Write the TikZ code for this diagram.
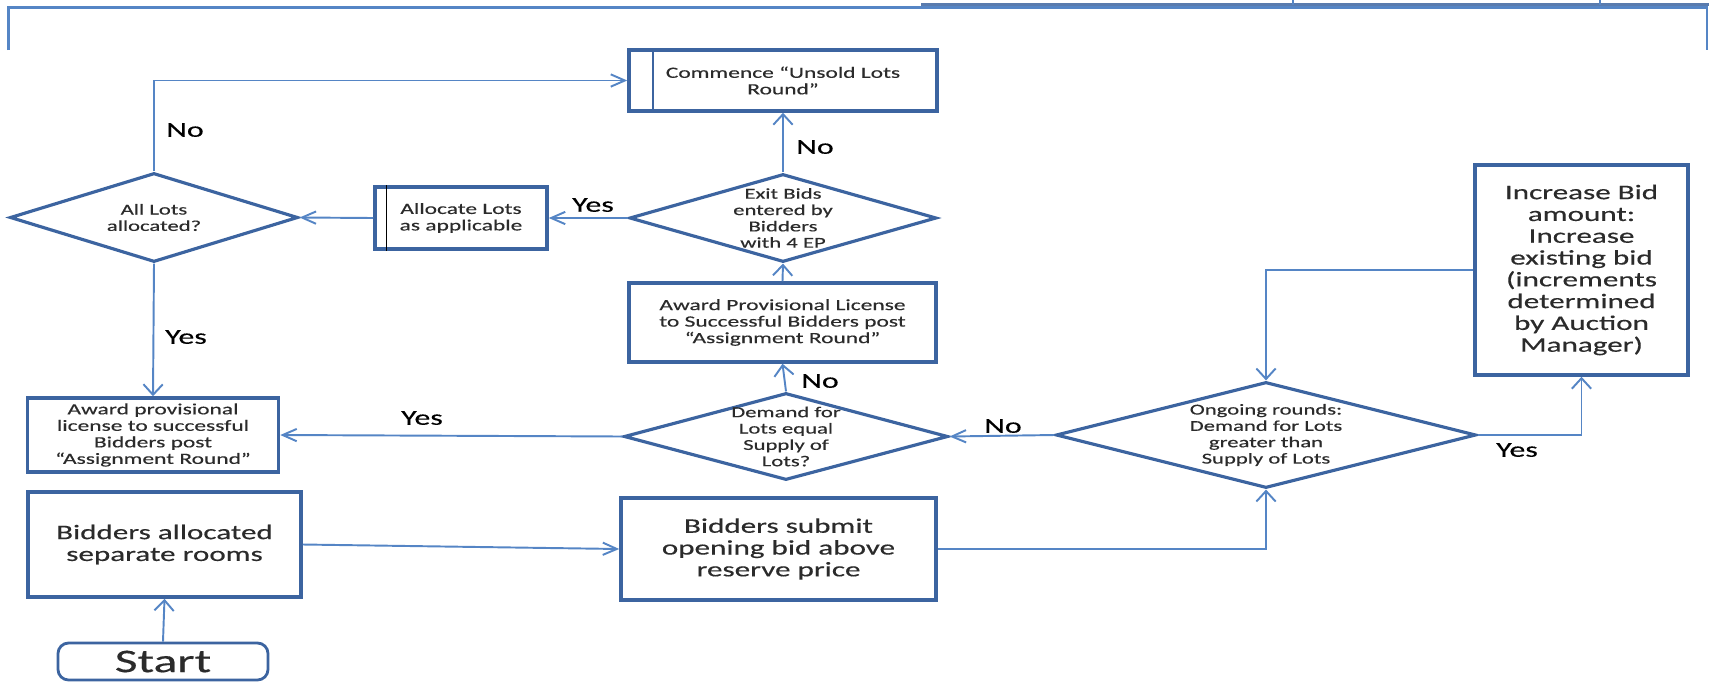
\documentclass[tikz,border=0pt]{standalone}
\usepackage{fontspec}
\setmainfont{Carlito}[FakeStretch=1.5, FakeBold=0.4]
\usetikzlibrary{shapes.geometric,arrows.meta}
\definecolor{boxblue}{HTML}{3C64A0}
\definecolor{lineblue}{HTML}{5585C5}
\definecolor{txtgray}{HTML}{2B2B2B}
\tikzset{
  box/.style={draw=boxblue, line width=2pt, rectangle, inner sep=2pt, align=center, text=txtgray},
  dia/.style={draw=boxblue, line width=1.8pt, diamond, inner sep=0pt},
  dtext/.style={align=center, text=txtgray, font=\fontsize{8.6}{9.3}\selectfont},
  midtext/.style={font=\fontsize{8.9}{9.4}\selectfont},
  bigtext/.style={font=\fontsize{11.8}{12.4}\selectfont},
  lbl/.style={font=\fontsize{12.1}{13}\selectfont},
  conn/.style={draw=lineblue, line width=1.1pt, -{Straight Barb[length=8pt,width=7pt]}},
  vconn/.style={draw=lineblue, line width=1.1pt, -{Straight Barb[length=6pt,width=11pt]}},
  edgeline/.style={draw=lineblue, line width=1.2pt},
}
\begin{document}
\begin{tikzpicture}
    \useasboundingbox (0,0) rectangle (34.18,-13.62);

    % frame at the top
    \draw[edgeline] (0.17,-1.0) -- (0.17,-0.15) -- (34.14,-0.15) -- (34.14,-1.0);
    \draw[edgeline, draw=boxblue!85, line width=1.4pt] (18.42,-0.09) -- (34.18,-0.09);
    \draw[edgeline, line width=0.6pt] (25.86,-0.09) -- (25.86,0) (32.0,-0.09) -- (32.0,0);

    \node[box, midtext, minimum width=6.16cm, minimum height=1.22cm] (commence)  at (15.66, -1.61) {Commence “Unsold Lots\\Round”};
    \node[box, midtext, minimum width=3.44cm, minimum height=1.24cm] (allocate)  at ( 9.22, -4.36) {Allocate Lots\\as applicable};
    \node[box, midtext, minimum width=6.14cm, minimum height=1.58cm] (awardmid)  at (15.65, -6.45) {Award Provisional License\\to Successful Bidders post\\“Assignment Round”};
    \node[box, midtext, minimum width=5.02cm, minimum height=1.48cm] (awardleft) at ( 3.06, -8.70) {Award provisional\\license to successful\\Bidders post\\“Assignment Round”};
    \node[box, bigtext, minimum width=4.26cm, minimum height=4.20cm] (increase)  at (31.63, -5.40) {Increase Bid\\amount:\\Increase\\existing bid\\(increments\\determined\\by Auction\\Manager)};
    \node[box, bigtext, minimum width=5.46cm, minimum height=2.10cm] (allocated) at ( 3.29,-10.89) {Bidders allocated\\separate rooms};
    \node[box, bigtext, minimum width=6.30cm, minimum height=2.04cm] (submit)    at (15.57,-10.98) {Bidders submit\\opening bid above\\reserve price};
    \node[box, line width=1.6pt, rounded corners=6pt, inner sep=0pt, font=\fontsize{18.8}{20}\selectfont,
          minimum width=4.20cm, minimum height=0.74cm] (start) at (3.26,-13.23) {Start};

    \node[dia, minimum width=6.14cm, minimum height=1.76cm] (exitbids) at (15.66, -4.36) {};
    \node[dia, minimum width=5.76cm, minimum height=1.78cm] (alllots)  at ( 3.08, -4.35) {};
    \node[dia, minimum width=6.48cm, minimum height=1.74cm] (demand)   at (15.72, -8.73) {};
    \node[dia, minimum width=8.40cm, minimum height=2.12cm] (ongoing)  at (25.32, -8.70) {};

    \node[dtext] (exitbidstxt) at (exitbids) {Exit Bids\\entered by\\Bidders\\with 4 EP};
    \node[dtext] (alllotstxt)  at (alllots)  {All Lots\\allocated?};
    \node[dtext] (demandtxt)   at (demand)   {Demand for\\Lots equal\\Supply of\\Lots?};
    \node[dtext] (ongoingtxt)  at (ongoing)  {Ongoing rounds:\\Demand for Lots\\greater than\\Supply of Lots};

    % bars inside two boxes
    \draw[boxblue, line width=1.3pt] ([xshift=0.52cm]commence.north west) -- ([xshift=0.52cm]commence.south west);
    \draw[black, line width=0.8pt]   ([xshift=0.26cm]allocate.north west) -- ([xshift=0.26cm]allocate.south west);

    \draw[vconn] (start.north)    -- (allocated.south);
    \draw[conn]  (allocated.east) -- (submit.west);
    \draw[vconn] (submit.east)    -| (ongoing.south);
    \draw[conn]  (ongoing.west)   -- (demand.east);
    \draw[vconn] (ongoing.east)   -| (increase.south);
    \draw[vconn] (increase.west)  -| (ongoing.north);
    \draw[vconn] (demand.north)   -- (awardmid.south);
    \draw[conn]  (demand.west)    -- (awardleft.east);
    \draw[vconn] (awardmid.north) -- (exitbids.south);
    \draw[vconn] (exitbids.north) -- (commence.south);
    \draw[conn]  (exitbids.west)  -- (allocate.east);
    \draw[conn]  (allocate.west)  -- (alllots.east);
    \draw[conn]  (alllots.north)  |- (commence.west);
    \draw[vconn] (alllots.south)  -- (awardleft.north);

    \node[lbl] (noall)      at ( 3.70, -2.60) {No};
    \node[lbl] (yesexit)    at (11.86, -4.10) {Yes};
    \node[lbl] (noexit)     at (16.30, -2.94) {No};
    \node[lbl] (yesall)     at ( 3.72, -6.74) {Yes};
    \node[lbl] (yesdemand)  at ( 8.44, -8.36) {Yes};
    \node[lbl] (nodemand)   at (16.40, -7.62) {No};
    \node[lbl] (noongoing)  at (20.06, -8.52) {No};
    \node[lbl] (yesongoing) at (30.34, -9.00) {Yes};
\end{tikzpicture}
\end{document}
